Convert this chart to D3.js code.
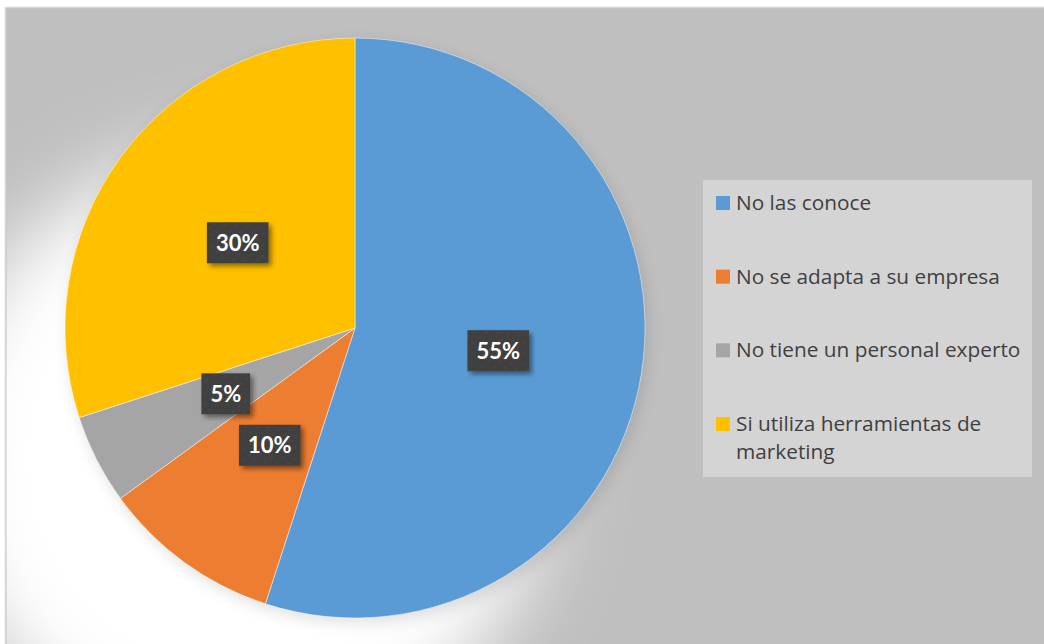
<!DOCTYPE html>
<html>
<head>
<meta charset="utf-8">
<script src="https://cdn.jsdelivr.net/npm/d3@7"></script>
<style>
  html, body { margin: 0; padding: 0; background: #ffffff; }
  svg { display: block; }
  text { font-variant-ligatures: none; }
</style>
</head>
<body>
<svg id="chart" width="1044" height="644"></svg>
<script>
// Survey answers and their shares
const categories = [
  "No las conoce",
  "No se adapta a su empresa",
  "No tiene un personal experto",
  "Si utiliza herramientas de marketing"
];
const values = [55, 10, 5, 30];
const valueLabels = ["55%", "10%", "5%", "30%"];
const legendLines = [
  ["No las conoce"],
  ["No se adapta a su empresa"],
  ["No tiene un personal experto"],
  ["Si utiliza herramientas de", "marketing"]
];
const colors = ["#5B9BD5", "#ED7D31", "#A5A5A5", "#FFC000"];

const W = 1044, H = 644;
const svg = d3.select("#chart");
const defs = svg.append("defs");

// chart frame
const frame = { x: 5.5, y: 7.5 };
svg.append("rect")
  .attr("x", frame.x).attr("y", frame.y)
  .attr("width", W - frame.x + 10).attr("height", H - frame.y + 10)
  .attr("fill", "#bfbfbf")
  .attr("stroke", "#d4d4d4").attr("stroke-width", 1.5);

defs.append("clipPath").attr("id", "plotClip")
  .append("rect").attr("x", 6.5).attr("y", 8.5).attr("width", W).attr("height", H);

defs.append("filter").attr("id", "glow")
  .attr("x", "-50%").attr("y", "-50%").attr("width", "200%").attr("height", "200%")
  .append("feGaussianBlur").attr("stdDeviation", 40);

defs.append("filter").attr("id", "edgeShadow")
  .attr("x", "-20%").attr("y", "-20%").attr("width", "140%").attr("height", "140%")
  .append("feGaussianBlur").attr("stdDeviation", 8);

// label box shadow
const boxShadow = defs.append("filter").attr("id", "boxShadow")
  .attr("x", "-30%").attr("y", "-30%").attr("width", "170%").attr("height", "170%");
boxShadow.append("feDropShadow")
  .attr("dx", 3).attr("dy", 3).attr("stdDeviation", 2.5)
  .attr("flood-color", "#000").attr("flood-opacity", 0.45);

// faint diagonal texture on label boxes
const pat = defs.append("pattern").attr("id", "hatch")
  .attr("width", 8).attr("height", 8)
  .attr("patternUnits", "userSpaceOnUse")
  .attr("patternTransform", "rotate(-40)");
pat.append("rect").attr("width", 8).attr("height", 8).attr("fill", "#404040");
pat.append("line").attr("x1", 0).attr("y1", 2).attr("x2", 4).attr("y2", 2)
  .attr("stroke", "#4a4a4a").attr("stroke-width", 1);

const cx = 355, cy = 328, radius = 290;

const pie = d3.pie().sort(null).value(d => d);
const arcs = pie(values);
const arc = d3.arc().innerRadius(0).outerRadius(radius);

const plot = svg.append("g").attr("clip-path", "url(#plotClip)");

// soft light halo and edge shadow behind the pie
plot.append("circle")
  .attr("cx", cx - 115).attr("cy", cy + 130).attr("r", radius + 15)
  .attr("fill", "#ffffff").attr("filter", "url(#glow)");
plot.append("circle")
  .attr("cx", cx + 3).attr("cy", cy + 5).attr("r", radius)
  .attr("fill", "#000").attr("opacity", 0.12).attr("filter", "url(#edgeShadow)");

const g = plot.append("g").attr("transform", `translate(${cx},${cy})`);

g.selectAll("path.slice")
  .data(arcs)
  .join("path")
  .attr("class", "slice")
  .attr("d", arc)
  .attr("fill", (d, i) => colors[i])
  .attr("stroke", "#ffffff").attr("stroke-opacity", 0.6)
  .attr("stroke-width", 0.8);

// value labels in dark boxes
const labelFont = "Lato, 'Open Sans', sans-serif";
const legendFont = "'Open Sans', Lato, sans-serif";
const lbl = g.selectAll("g.lbl")
  .data(arcs)
  .join("g")
  .attr("class", "lbl")
  .attr("transform", d => `translate(${arc.centroid(d)})`);

lbl.each(function(d, i) {
  const sel = d3.select(this);
  const t = sel.append("text")
    .attr("text-anchor", "middle")
    .attr("dy", "0.36em")
    .attr("fill", "#ffffff")
    .attr("font-family", labelFont)
    .attr("font-weight", 700)
    .attr("font-size", 22)
    .text(valueLabels[i]);
  const w = t.node().getComputedTextLength();
  const bw = w + 18, bh = 41;
  sel.insert("rect", "text")
    .attr("x", -bw / 2).attr("y", -bh / 2)
    .attr("width", bw).attr("height", bh)
    .attr("fill", "url(#hatch)")
    .attr("filter", "url(#boxShadow)");
});

// legend
const legend = svg.append("g");
legend.append("rect")
  .attr("x", 703).attr("y", 180).attr("width", 329).attr("height", 297)
  .attr("fill", "#d4d4d4");

const rowY = d3.scalePoint().domain(d3.range(categories.length)).range([203, 424]);

const item = legend.selectAll("g.item")
  .data(categories)
  .join("g")
  .attr("class", "item")
  .attr("transform", (d, i) => `translate(716,${rowY(i)})`);

item.append("rect")
  .attr("x", 0).attr("y", -7).attr("width", 14).attr("height", 14)
  .attr("fill", (d, i) => colors[i]);

item.append("text")
  .attr("x", 20).attr("y", 7)
  .attr("fill", "#404040")
  .attr("font-family", legendFont)
  .attr("font-size", 20.8)
  .each(function(d, i) {
    const t = d3.select(this);
    legendLines[i].forEach((line, k) => {
      t.append("tspan").attr("x", 20).attr("dy", k === 0 ? 0 : 28).text(line);
    });
  });
</script>
</body>
</html>
